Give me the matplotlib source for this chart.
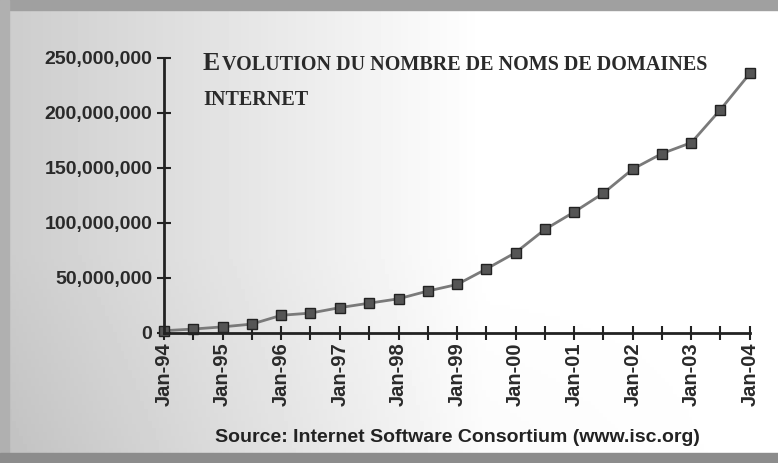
import matplotlib.pyplot as plt
import matplotlib.dates as mdates
import numpy as np
from datetime import date
from matplotlib.ticker import FuncFormatter

plt.rcParams['font.family'] = ['Liberation Sans Narrow', 'Liberation Sans', 'DejaVu Sans']

# survey dates (every six months) and number of domain names
dates = ['1994-01', '1994-07', '1995-01', '1995-07', '1996-01', '1996-07',
         '1997-01', '1997-07', '1998-01', '1998-07', '1999-01', '1999-07',
         '2000-01', '2000-07', '2001-01', '2001-07', '2002-01', '2002-07',
         '2003-01', '2003-07', '2004-01']
domains = [2.0e6, 3.5e6, 5.5e6, 8.0e6, 16.0e6, 18.0e6,
           23.0e6, 27.0e6, 31.0e6, 38.0e6, 44.0e6, 58.0e6,
           73.0e6, 94.0e6, 110.0e6, 127.0e6, 149.0e6, 163.0e6,
           173.0e6, 203.0e6, 236.0e6]
yticks = [0, 50e6, 100e6, 150e6, 200e6, 250e6]

x = [date(int(d[:4]), int(d[5:]), 1) for d in dates]

fig = plt.figure(figsize=(7.78, 4.63), dpi=100)

# scanned-paper background: grey on the left, fading to white
bg = fig.add_axes([0, 0, 1, 1], zorder=-2)
gx = np.linspace(0, 1, 200)
gy = np.linspace(0, 1, 120)
GX, GY = np.meshgrid(gx, gy)
shade = 0.80 + 0.20 * np.clip(GX * 1.6, 0, 1) - 0.10 * np.clip(GY - 0.55, 0, 1) * (1 - GX)
bg.imshow(shade, cmap='gray', vmin=0, vmax=1, aspect='auto', extent=[0, 1, 0, 1])
bg.add_patch(plt.Rectangle((0, 0.978), 1, 0.022, color='#a0a0a0'))
bg.add_patch(plt.Rectangle((0, 0), 0.012, 1, color='#b0b0b0'))
bg.add_patch(plt.Rectangle((0, 0), 1, 0.022, color='#8c8c8c'))
bg.set_xlim(0, 1)
bg.set_ylim(0, 1)
bg.axis('off')

ax = fig.add_axes([0.211, 0.281, 0.753, 0.594])
ax.patch.set_alpha(0)
ax.plot(x, domains, color='#7a7a7a', lw=2, marker='s', markersize=6.5,
        markerfacecolor='#555555', markeredgecolor='#222222', clip_on=False)

ax.set_xlim(date(1994, 1, 1), date(2004, 1, 1))
ax.set_ylim(0, 250e6)
ax.set_yticks(yticks)
ax.yaxis.set_major_formatter(FuncFormatter(lambda v, p: f'{v:,.0f}'))
ax.xaxis.set_major_locator(mdates.YearLocator())
ax.xaxis.set_minor_locator(mdates.MonthLocator(bymonth=7))
ax.xaxis.set_major_formatter(mdates.DateFormatter('Jan-%y'))
ax.tick_params(axis='both', direction='inout', length=10, width=1.5, colors='#222222',
               labelcolor='#2a2a2a')
ax.tick_params(axis='x', which='minor', direction='inout', length=10, width=1.5, colors='#222222')
ax.tick_params(axis='x', pad=2)
for lab in ax.get_yticklabels():
    lab.set_fontsize(14)
    lab.set_fontweight('bold')
for lab in ax.get_xticklabels():
    lab.set_rotation(90)
    lab.set_fontsize(14.5)
    lab.set_fontweight('bold')
for s in ['top', 'right']:
    ax.spines[s].set_visible(False)
for s in ['left', 'bottom']:
    ax.spines[s].set_linewidth(2)
    ax.spines[s].set_color('#222222')

# small-caps style title
serif = ['Liberation Serif', 'DejaVu Serif']
t1 = fig.text(0.261, 0.849, 'E', family=serif, fontsize=18.5, fontweight='bold',
              color='#2a2a2a', va='baseline')
ax.annotate('VOLUTION DU NOMBRE DE NOMS DE DOMAINES', xy=(1.0, 0.0), xycoords=t1,
            xytext=(1, 0), textcoords='offset points', family=serif, fontsize=14.5,
            fontweight='bold', color='#2a2a2a', va='bottom', ha='left',
            annotation_clip=False)
fig.text(0.261, 0.773, 'INTERNET', family=serif, fontsize=14.5, fontweight='bold',
         color='#2a2a2a', va='baseline')

fig.text(0.588, 0.045, 'Source: Internet Software Consortium (www.isc.org)',
         ha='center', va='baseline', fontsize=14, fontweight='bold', color='#222222')

fig.savefig('out.png', dpi=100)
